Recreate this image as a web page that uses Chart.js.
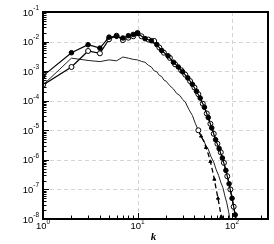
<!DOCTYPE html>
<html>
<head>
<meta charset="utf-8">
<script src="https://cdn.jsdelivr.net/npm/chart.js@4/dist/chart.umd.min.js"></script>
<style>
  html, body { margin: 0; padding: 0; background: #fff; }
  canvas { display: block; }
</style>
</head>
<body>
<canvas id="spec" width="274" height="244"></canvas>
<script>
// wavenumbers and spectrum values
var kFilled = [1, 2, 3, 4, 5, 6, 7, 8, 9, 10, 12, 14, 16, 18, 21, 24, 27, 30, 34, 38, 42, 46, 51, 56, 61, 67, 73, 79, 86, 93, 100, 108, 116];
var eFilled = [6.9e-4, 4.2e-3, 7.8e-3, 6.0e-3, 1.41e-2, 1.51e-2, 1.32e-2, 1.58e-2, 1.74e-2, 1.9e-2, 1.26e-2, 1.07e-2, 7.9e-3, 5.0e-3,
               3.3e-3, 2.0e-3, 1.38e-3, 9.5e-4, 5.9e-4, 3.6e-4, 2.1e-4, 1.23e-4, 6.0e-5, 2.7e-5, 1.2e-5, 4.8e-6, 2.4e-6, 1.15e-6,
               4.4e-7, 1.55e-7, 5.0e-8, 1.38e-8, 4e-9];

var kOpen = [1, 2, 3, 4, 5, 6, 7, 8, 9, 10, 11, 13, 15, 17, 19, 22, 25, 29, 32, 36, 40, 44, 49, 54, 59, 64, 70, 76, 82, 89, 96, 104, 112];
var eOpen = [3.4e-4, 1.38e-3, 4.8e-3, 4.0e-3, 1.2e-2, 1.58e-2, 1.12e-2, 1.35e-2, 1.51e-2, 1.95e-2, 1.51e-2, 1.17e-2, 1.05e-2, 6.3e-3,
             4.2e-3, 2.8e-3, 1.7e-3, 1.07e-3, 7.6e-4, 4.6e-4, 2.8e-4, 1.66e-4, 7.9e-5, 3.7e-5, 1.66e-5, 7.6e-6, 3.5e-6, 1.8e-6,
             7.9e-7, 2.8e-7, 1.0e-7, 2.6e-8, 7e-9];

var kThin = [1, 2, 3, 4, 5, 6, 7, 8, 9, 10, 11, 12, 13, 14, 15, 16, 17, 18, 19, 20, 22, 24, 26, 28, 30, 32, 35, 38, 41, 44,
             47, 50, 53, 56, 60, 64, 68, 72, 76, 80, 84, 88, 92, 96];
var eThin = [3.4e-4, 2.75e-3, 2.3e-3, 2.1e-3, 2.4e-3, 2.24e-3, 3.0e-3, 2.75e-3, 2.5e-3, 2.4e-3, 2.14e-3, 2.0e-3, 1.58e-3, 1.38e-3,
             1.02e-3, 9.5e-4, 7.2e-4, 6.6e-4, 5.0e-4, 4.6e-4, 3.2e-4, 2.5e-4, 1.74e-4, 1.51e-4, 1.1e-4, 9.1e-5, 5.0e-5, 3.2e-5,
             1.66e-5, 1.0e-5, 6.0e-6, 4.6e-6, 3.0e-6, 2.3e-6, 1.26e-6, 8.3e-7, 4.6e-7, 3.0e-7, 1.74e-7, 1.15e-7, 6.0e-8, 3.5e-8,
             1.74e-8, 8.3e-9];

var kDash = [44, 47, 50, 53, 56, 59, 62, 65, 68, 71, 74, 77, 79];
var eDash = [1.0e-5, 6.3e-6, 4.4e-6, 2.6e-6, 1.58e-6, 8.7e-7, 4.4e-7, 2.2e-7, 1.0e-7, 5.0e-8, 2.4e-8, 1.2e-8, 7.6e-9];

var xDecades = [1, 10, 100];
var xExp = ['0', '1', '2'];
var yDecades = [1e-8, 1e-7, 1e-6, 1e-5, 1e-4, 1e-3, 1e-2, 1e-1];
var yExp = ['-8', '-7', '-6', '-5', '-4', '-3', '-2', '-1'];

function pts(ks, vs) {
    return ks.map(function (k, i) { return { x: k, y: vs[i] }; });
}

function line(ctx, x1, y1, x2, y2) {
    ctx.beginPath();
    ctx.moveTo(x1, y1);
    ctx.lineTo(x2, y2);
    ctx.stroke();
}

// tecplot style frame, inward ticks and 10^n labels
var tecAxes = {
    id: 'tecAxes',
    beforeDatasetsDraw: function (chart) {
        var ctx = chart.ctx, a = chart.chartArea, x = chart.scales.x, y = chart.scales.y;
        ctx.save();
        ctx.strokeStyle = '#d4d4d4';
        ctx.lineWidth = 1;
        ctx.setLineDash([4, 3]);
        xDecades.forEach(function (v) {
            var px = Math.round(x.getPixelForValue(v)) + 0.5;
            if (px > a.left + 2 && px < a.right - 2) line(ctx, px, a.top, px, a.bottom);
        });
        yDecades.forEach(function (v) {
            var py = Math.round(y.getPixelForValue(v)) + 0.5;
            if (py > a.top + 2 && py < a.bottom - 2) line(ctx, a.left, py, a.right, py);
        });
        ctx.restore();
    },
    afterDatasetsDraw: function (chart) {
        var ctx = chart.ctx, a = chart.chartArea, x = chart.scales.x, y = chart.scales.y;
        ctx.save();
        ctx.strokeStyle = '#000';
        ctx.lineWidth = 1;
        // minor + major ticks
        for (var d = 0; d < 3; d++) {
            for (var m = 1; m <= 9; m++) {
                var v = m * Math.pow(10, d);
                if (v > x.max) break;
                var px = Math.round(x.getPixelForValue(v)) + 0.5;
                line(ctx, px, a.bottom, px, a.bottom - (m === 1 ? 6 : 3.5));
            }
        }
        for (var e = -8; e < -1; e++) {
            for (var n = 1; n <= 9; n++) {
                var w = n * Math.pow(10, e);
                var py = Math.round(y.getPixelForValue(w)) + 0.5;
                line(ctx, a.left, py, a.left + (n === 1 ? 6 : 3.5), py);
            }
        }
        // frame
        ctx.lineWidth = 2;
        ctx.strokeRect(a.left, a.top, a.right - a.left, a.bottom - a.top);

        // labels
        ctx.fillStyle = '#000';
        ctx.textBaseline = 'middle';
        var big = '9.5px "Liberation Sans", Arial, sans-serif';
        var small = '6.5px "Liberation Sans", Arial, sans-serif';
        yDecades.forEach(function (v, i) {
            var py = y.getPixelForValue(v);
            ctx.font = small;
            ctx.textAlign = 'right';
            var ew = ctx.measureText(yExp[i]).width;
            ctx.fillText(yExp[i], a.left - 4, py - 4);
            ctx.font = big;
            ctx.fillText('10', a.left - 4 - ew, py + 1);
        });
        xDecades.forEach(function (v, i) {
            var px = x.getPixelForValue(v);
            ctx.font = big;
            var bw = ctx.measureText('10').width;
            ctx.font = small;
            var ew = ctx.measureText(xExp[i]).width;
            var left = px - (bw + ew) / 2;
            ctx.textAlign = 'left';
            ctx.font = big;
            ctx.fillText('10', left, a.bottom + 7);
            ctx.font = small;
            ctx.fillText(xExp[i], left + bw, a.bottom + 3);
        });
        ctx.font = 'italic bold 11px "Liberation Serif", "DejaVu Serif", serif';
        ctx.textAlign = 'center';
        ctx.fillText('k', (a.left + a.right) / 2 - 2, a.bottom + 18);
        ctx.restore();
    }
};

var dashStyles = kDash.map(function (k, i) { return i === 0 ? 'circle' : 'triangle'; });
var dashRadius = kDash.map(function (k, i) { return i === 0 ? 2.5 : (i % 2 === 1 ? 1.8 : 0); });
var dashFill = kDash.map(function (k, i) { return i === 0 ? '#fff' : '#000'; });

var specChart = new Chart(document.getElementById('spec').getContext('2d'), {
    type: 'line',
    data: {
        datasets: [
            {
                data: pts(kFilled, eFilled),
                borderColor: '#000', borderWidth: 1.2,
                pointStyle: 'circle', pointRadius: 2.3,
                pointBackgroundColor: '#000', pointBorderColor: '#000', pointBorderWidth: 1
            },
            {
                data: pts(kOpen, eOpen),
                borderColor: '#000', borderWidth: 1.2,
                pointStyle: 'circle', pointRadius: 2.5,
                pointBackgroundColor: '#fff', pointBorderColor: '#000', pointBorderWidth: 1
            },
            {
                data: pts(kDash, eDash),
                borderColor: '#000', borderWidth: 1.3, borderDash: [5, 3],
                pointStyle: dashStyles, pointRadius: dashRadius,
                pointBackgroundColor: dashFill, pointBorderColor: '#000', pointBorderWidth: 1
            },
            {
                data: pts(kThin, eThin),
                borderColor: '#222', borderWidth: 1,
                pointRadius: 0
            }
        ]
    },
    options: {
        responsive: false,
        animation: false,
        devicePixelRatio: 1,
        layout: { padding: { left: 43, right: 6, top: 12, bottom: 25 } },
        elements: { line: { tension: 0 } },
        scales: {
            x: { type: 'logarithmic', min: 1, max: 240, display: false },
            y: { type: 'logarithmic', min: 1e-8, max: 1e-1, display: false }
        },
        plugins: {
            legend: { display: false },
            tooltip: { enabled: false }
        }
    },
    plugins: [tecAxes]
});
</script>
</body>
</html>
